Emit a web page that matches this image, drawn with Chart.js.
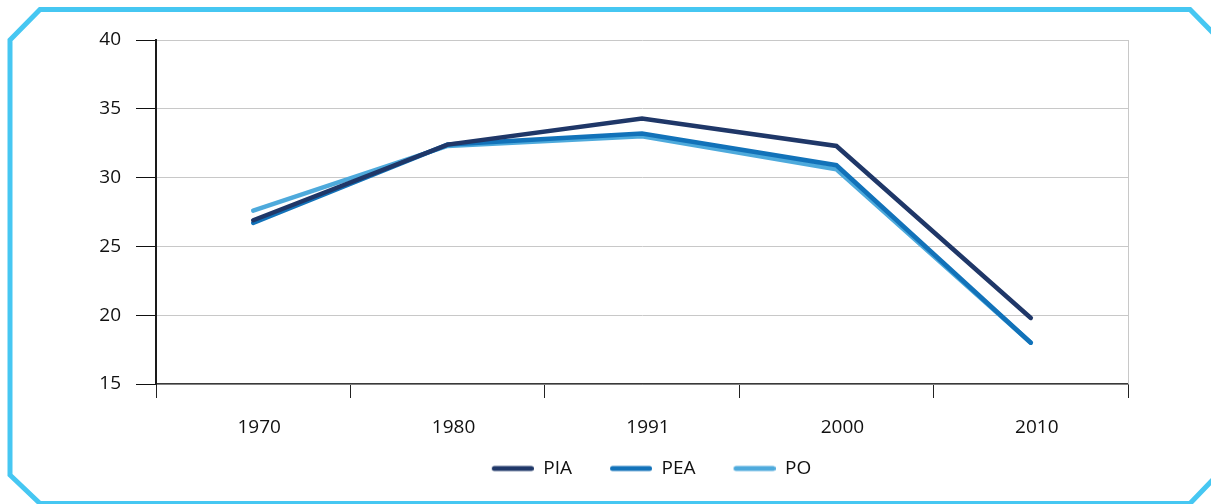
<!DOCTYPE html>
<html><head><meta charset="utf-8">
<script src="https://cdn.jsdelivr.net/npm/chart.js@4"></script>
<style>html,body{margin:0;padding:0;background:#fff;}#wrap{width:1211px;height:504px;}</style>
</head><body><div id="wrap"><canvas id="c" width="1211" height="504"></canvas></div>
<script>
const categories = ['1970','1980','1991','2000','2010'];
const seriesPIA = [26.9, 32.4, 34.3, 32.3, 19.8];
const seriesPEA = [26.7, 32.4, 33.2, 30.9, 18.0];
const seriesPO  = [27.6, 32.3, 33.0, 30.6, 18.0];
const seriesNames = ['PIA','PEA','PO'];
const colors = ['#1f3768','#1272b9','#4eaadc'];
const FONT = '"Open Sans", sans-serif';

// legend swatch: a 42px rounded line, preceded by a transparent gap
const GAP = 19, SW = 42;
function swatch(color){
  const c = document.createElement('canvas');
  c.width = GAP + SW; c.height = 8;
  const g = c.getContext('2d');
  g.strokeStyle = color; g.lineWidth = 5; g.lineCap = 'round';
  g.beginPath(); g.moveTo(GAP + 2.5, 4); g.lineTo(GAP + SW - 2.5, 4); g.stroke();
  return c;
}

const framePlugin = {
  id:'frame',
  beforeDatasetsDraw(chart){
    const ctx = chart.ctx, a = chart.chartArea;
    ctx.save();
    ctx.strokeStyle = '#c8c8c8'; ctx.lineWidth = 1;
    ctx.beginPath(); ctx.moveTo(a.right+0.5, a.top); ctx.lineTo(a.right+0.5, a.bottom); ctx.stroke();
    ctx.restore();
  },
  afterDraw(chart){
    const ctx = chart.ctx;
    ctx.save();
    ctx.strokeStyle = '#46c7f2'; ctx.lineWidth = 5; ctx.lineJoin = 'miter';
    ctx.beginPath();
    ctx.moveTo(10, 40); ctx.lineTo(40, 9.5); ctx.lineTo(1190, 9.5); ctx.lineTo(1222, 42);
    ctx.lineTo(1222, 470); ctx.lineTo(1190, 503.5); ctx.lineTo(40, 503.5); ctx.lineTo(10, 475); ctx.closePath();
    ctx.stroke();
    ctx.restore();
  }
};

const data = {
  labels: categories,
  datasets: [seriesPIA, seriesPEA, seriesPO].map((d,i)=>({
    label: seriesNames[i], data: d, borderColor: colors[i], backgroundColor: colors[i],
    borderWidth: 4.5, pointRadius: 0, tension: 0, borderCapStyle:'round', borderJoinStyle:'miter'
  }))
};

new Chart(document.getElementById('c'), {
  type:'line', data,
  plugins:[framePlugin],
  options:{
    responsive:false, animation:false, devicePixelRatio:1,
    layout:{padding:{left:0, right:83, top:40, bottom:16}},
    plugins:{
      tooltip:{enabled:false},
      legend:{position:'bottom', fullSize:false, labels:{
        font:{family:FONT, size:19}, color:'#111',
        usePointStyle:true, pointStyleWidth: GAP + SW, boxHeight:5, padding:19,
        generateLabels(chart){
          return chart.data.datasets.map((ds,i)=>({text:ds.label, pointStyle:swatch(colors[i]), fillStyle:colors[i], strokeStyle:colors[i], lineWidth:0, datasetIndex:i, hidden:false, fontColor:'#111'}));
        }
      }}
    },
    scales:{
      x:{
        offset:true,
        afterFit(s){ s.height = 56; },
        grid:{offset:true, drawOnChartArea:false, tickLength:14, color:'#222', tickColor:'#222'},
        border:{color:'#3a3a3a', width:1.5},
        ticks:{font:{family:FONT, size:19}, color:'#111', padding:18, labelOffset:6, maxRotation:0}
      },
      y:{
        min:15, max:40,
        afterFit(s){ s.width = 156; },
        grid:{color:'#c8c8c8', tickLength:20, tickColor:'#111', lineWidth:1},
        border:{color:'#1a1a1a', width:2},
        ticks:{stepSize:5, font:{family:FONT, size:19}, color:'#111', padding:15}
      }
    }
  }
});
</script></body></html>
